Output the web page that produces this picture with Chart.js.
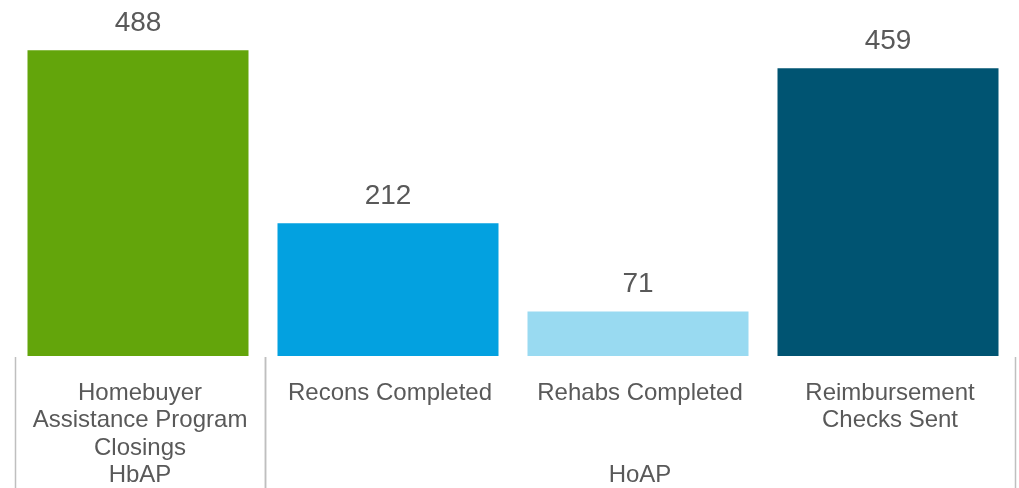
<!DOCTYPE html>
<html>
<head>
<meta charset="utf-8">
<script src="https://cdn.jsdelivr.net/npm/chart.js@4.4.0/dist/chart.umd.min.js"></script>
<style>
  html, body { margin: 0; padding: 0; background: #fff; }
  #wrap { width: 1019px; height: 488px; position: relative; }
</style>
</head>
<body>
<div id="wrap"><canvas id="chart"></canvas></div>
<script>
// data
const categories = [
    ['Homebuyer', 'Assistance Program', 'Closings'],
    ['Recons Completed'],
    ['Rehabs Completed'],
    ['Reimbursement', 'Checks Sent']
];
const values = [488, 212, 71, 459];
const groups = ['HbAP', 'HoAP', 'HoAP', 'HoAP'];
const barColors = ['#63a50b', '#03a1e0', '#99daf1', '#005472'];

const textColor = '#595959';
const fontFamily = '"Liberation Sans", Arial, sans-serif';

// labels, group names and separators drawn under the plot
const labelsPlugin = {
    id: 'labels',
    afterDraw(chart) {
        const ctx = chart.ctx;
        const x = chart.scales.x;
        const y = chart.scales.y;
        const area = chart.chartArea;
        const half = (x.getPixelForValue(1) - x.getPixelForValue(0)) / 2;
        const shift = 2; // axis text sits a bit right of the bars

        ctx.save();
        ctx.fillStyle = textColor;
        ctx.textAlign = 'center';
        ctx.textBaseline = 'middle';

        // value labels
        ctx.font = '28px ' + fontFamily;
        values.forEach((v, i) => {
            ctx.fillText(String(v), x.getPixelForValue(i), y.getPixelForValue(v) - 27);
        });

        // category labels
        ctx.font = '24px ' + fontFamily;
        categories.forEach((lines, i) => {
            lines.forEach((line, j) => {
                ctx.fillText(line, x.getPixelForValue(i) + shift, area.bottom + 37 + j * 27.5);
            });
        });

        // group labels and separators
        ctx.strokeStyle = '#bfbfbf';
        ctx.lineWidth = 1.5;
        let start = 0;
        for (let i = 1; i <= groups.length; i++) {
            if (i === groups.length || groups[i] !== groups[start]) {
                const left = x.getPixelForValue(start) - half + shift;
                const right = x.getPixelForValue(i - 1) + half + shift;
                ctx.fillText(groups[start], (left + right) / 2, area.bottom + 119.5);
                [left, Math.min(right, chart.width - 4)].forEach(px => {
                    ctx.beginPath();
                    ctx.moveTo(Math.round(px) + 0.5, area.bottom + 1);
                    ctx.lineTo(Math.round(px) + 0.5, chart.height);
                    ctx.stroke();
                });
                start = i;
            }
        }
        ctx.restore();
    }
};

new Chart(document.getElementById('chart'), {
    type: 'bar',
    data: {
        labels: categories,
        datasets: [{
            data: values,
            backgroundColor: barColors,
            barPercentage: 0.884,
            categoryPercentage: 1.0
        }]
    },
    options: {
        responsive: true,
        maintainAspectRatio: false,
        animation: false,
        layout: { padding: { left: 13, right: 6, top: 0, bottom: 132 } },
        plugins: {
            legend: { display: false },
            tooltip: { enabled: false }
        },
        scales: {
            x: { display: false },
            y: { display: false, min: 0, max: 568 }
        }
    },
    plugins: [labelsPlugin]
});
</script>
</body>
</html>
